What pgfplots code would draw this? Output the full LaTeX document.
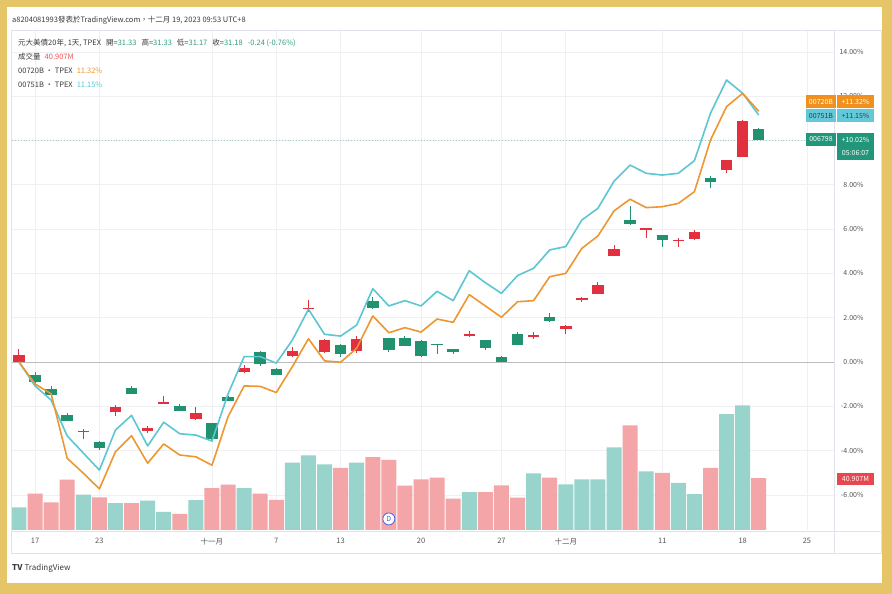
\documentclass[border=0pt]{standalone}
\usepackage{fontspec}
\setmainfont{Noto Sans CJK TC}
\usepackage{pgfplots}
\pgfplotsset{compat=1.18}
\usepackage{pgfplotstable}

\definecolor{gold}{HTML}{E6C468}
\definecolor{cred}{HTML}{E2303F}
\definecolor{cgreen}{HTML}{22916F}
\definecolor{vred}{HTML}{F3A5A8}
\definecolor{vgreen}{HTML}{98D4CC}
\definecolor{lorange}{HTML}{EE9630}
\definecolor{lcyan}{HTML}{5CC6D3}
\definecolor{gridc}{HTML}{EEF0F4}
\definecolor{bordc}{HTML}{E0E3EB}
\definecolor{txtc}{HTML}{3A3A3A}
\definecolor{ticktxt}{HTML}{555555}
\definecolor{valg}{HTML}{2E9E82}
\definecolor{valr}{HTML}{EF5350}
\definecolor{boxo}{HTML}{F0901E}
\definecolor{boxc}{HTML}{63C9D8}
\definecolor{boxg}{HTML}{22967A}
\definecolor{boxr}{HTML}{E8474F}
\definecolor{zeroc}{HTML}{BDBDBD}
\definecolor{dotc}{HTML}{9CC9C0}
\definecolor{dblue}{HTML}{4A5FE0}

% candles: x open high low close (percent)
\pgfplotstableread{
x o h l c
0 0.00 0.59 0.00 0.30
4 -3.14 -3.02 -3.48 -3.13
6 -2.27 -1.94 -2.42 -2.05
8 -3.13 -2.89 -3.21 -2.97
9 -1.84 -1.53 -1.87 -1.82
11 -2.57 -2.02 -2.60 -2.29
14 -0.47 -0.14 -0.50 -0.26
17 0.26 0.66 0.24 0.51
18 2.41 2.80 2.27 2.43
19 0.45 1.02 0.42 0.99
21 0.50 1.16 0.39 1.05
28 1.16 1.40 1.12 1.28
32 1.18 1.34 1.02 1.20
34 1.49 1.66 1.25 1.64
35 2.83 2.95 2.72 2.85
36 3.07 3.60 3.05 3.49
37 4.79 5.30 4.77 5.10
39 5.98 6.04 5.61 6.00
41 5.48 5.58 5.18 5.50
42 5.54 5.95 5.52 5.86
44 8.67 9.13 8.52 9.11
45 9.27 10.93 9.25 10.88
}\redtab
\pgfplotstableread{
x o h l c
1 -0.59 -0.45 -0.95 -0.92
2 -1.21 -1.08 -1.50 -1.48
3 -2.38 -2.30 -2.66 -2.65
5 -3.60 -3.58 -3.97 -3.88
7 -1.19 -1.07 -1.45 -1.43
10 -2.00 -1.90 -2.21 -2.20
12 -2.77 -2.75 -3.50 -3.48
13 -1.57 -1.55 -1.77 -1.75
15 0.45 0.50 -0.20 -0.10
16 -0.30 -0.28 -0.60 -0.57
20 0.77 0.79 0.24 0.36
22 2.75 2.92 2.40 2.42
23 1.07 1.09 0.45 0.56
24 1.07 1.19 0.70 0.72
25 0.97 0.99 0.24 0.26
26 0.80 0.82 0.36 0.78
27 0.57 0.59 0.36 0.44
29 0.98 1.00 0.54 0.63
30 0.23 0.25 -0.01 0.00
31 1.28 1.37 0.76 0.78
33 2.02 2.20 1.82 1.84
38 6.41 7.06 6.20 6.22
40 5.73 5.75 5.21 5.51
43 8.31 8.40 7.86 8.13
46 10.53 10.55 10.00 10.02
}\greentab
% compare lines (percent)
\pgfplotstableread{
x cy or
0 0.00 0.00
1 -1.08 -0.99
2 -1.72 -1.44
3 -3.34 -4.35
4 -4.11 -5.02
5 -4.88 -5.73
6 -3.07 -4.05
7 -2.41 -3.33
8 -3.79 -4.57
9 -2.72 -3.70
10 -3.24 -4.20
11 -3.30 -4.28
12 -3.57 -4.66
13 -1.44 -2.47
14 0.24 -1.08
15 0.24 -1.10
16 -0.05 -1.38
17 0.99 -0.21
18 2.38 1.05
19 1.25 0.05
20 1.17 -0.01
21 1.67 0.62
22 3.31 2.08
23 2.53 1.32
24 2.77 1.55
25 2.53 1.35
26 3.19 1.94
27 2.77 1.79
28 4.12 3.04
29 3.58 2.53
30 3.10 2.02
31 3.90 2.72
32 4.23 2.77
33 5.06 3.85
34 5.21 4.00
35 6.41 5.13
36 6.94 5.69
37 8.16 6.82
38 8.89 7.35
39 8.52 6.97
40 8.44 7.01
41 8.52 7.16
42 9.09 7.69
43 11.23 10.02
44 12.73 11.53
45 12.13 12.13
46 11.15 11.32
}\linetab

\newcommand\lgf{\fontsize{7.5}{9}\selectfont}
\newcommand\smf{\fontsize{7}{8}\selectfont}

\begin{document}
\begin{tikzpicture}[x=1pt,y=1pt]
\fill[gold] (0,0) rectangle (892,594);
\fill[white] (7,11) rectangle (882,587);

% grid + tick labels
\begin{axis}[at={(12pt,64pt)}, anchor=south west, scale only axis,
  width=822pt, height=500pt,
  xmin=-0.435, xmax=50.68, ymin=-7.585, ymax=14.989,
  axis line style={draw=none}, major tick length=0pt,
  xtick={1,5,12,16,20,25,30,34,40,45,49},
  xticklabels={17,23,十一月,7,13,20,27,十二月,11,18,25},
  ytick={-6,-4,-2,0,2,4,6,8,12,14},
  extra y ticks={10}, extra y tick labels={},
  extra y tick style={grid=major},
  yticklabel pos=right,
  grid=major, major grid style={draw=gridc, line width=0.6pt},
  /pgf/number format/assume math mode=true,
  yticklabel={\pgfmathprintnumber[fixed,fixed zerofill,precision=2]{\tick}\%},
  yticklabel style={anchor=east, xshift=33pt, font=\smf, text=ticktxt},
  xticklabel style={font=\lgf, text=ticktxt, yshift=-5pt},
]
\end{axis}

% volume
\begin{axis}[at={(12pt,64pt)}, anchor=south west, scale only axis,
  width=822pt, height=500pt,
  xmin=-0.435, xmax=50.68, ymin=0, ymax=393.5, hide axis,
  ybar, bar width=15pt, bar shift=0pt]
\addplot[fill=vgreen, draw=none] coordinates {
(0,17.9) (4,27.8) (6,21.2) (8,23.1) (9,14.2) (11,23.6) (14,33.0) (17,53.0)
(18,58.8) (19,51.7) (21,53.0) (28,29.9) (32,44.6) (34,36.0) (35,39.9) (36,39.9)
(37,65.1) (39,46.2) (41,37.0) (42,28.3) (44,91.1) (45,98.1)};
\addplot[fill=vred, draw=none] coordinates {
(1,28.6) (2,21.8) (3,39.6) (5,25.7) (7,21.2) (10,12.6) (12,33.0) (13,35.7)
(15,28.6) (16,23.8) (20,48.8) (22,57.4) (23,55.1) (24,34.9) (25,39.9) (26,41.2)
(27,24.6) (29,29.9) (30,35.2) (31,25.4) (33,41.2) (38,82.4) (40,44.9) (43,48.8)
(46,40.9)};
\node[circle, draw=dblue, fill=white, line width=0.8pt, inner sep=0pt, minimum size=12pt,
  text=dblue, font=\fontsize{7}{7}\selectfont] at (axis cs:23,8.7) {D};
\end{axis}

% price
\begin{axis}[at={(12pt,64pt)}, anchor=south west, scale only axis,
  width=822pt, height=500pt,
  xmin=-0.435, xmax=50.68, ymin=-7.585, ymax=14.989, hide axis, clip=false]
\addplot[color=zeroc, line width=0.9pt, forget plot] coordinates {(-0.435,0) (50.68,0)};
\addplot[color=dotc, dotted, line width=0.9pt, forget plot] coordinates {(-0.435,10.02) (49.9,10.02)};
% red wicks & bodies
\addplot[draw=none, mark=none, forget plot, error bars/.cd, y dir=both, y explicit, error mark=none,
  error bar style={draw=cred, line width=1pt}]
  table[x=x, y expr={(\thisrow{h}+\thisrow{l})/2}, y error expr={(\thisrow{h}-\thisrow{l})/2}] {\redtab};
\addplot[draw=none, mark=none, forget plot, error bars/.cd, y dir=both, y explicit, error mark=none,
  error bar style={draw=cred, line width=11.5pt}]
  table[x=x, y expr={(\thisrow{o}+\thisrow{c})/2}, y error expr={max(abs(\thisrow{c}-\thisrow{o})/2,0.04)}] {\redtab};
% green wicks & bodies
\addplot[draw=none, mark=none, forget plot, error bars/.cd, y dir=both, y explicit, error mark=none,
  error bar style={draw=cgreen, line width=1pt}]
  table[x=x, y expr={(\thisrow{h}+\thisrow{l})/2}, y error expr={(\thisrow{h}-\thisrow{l})/2}] {\greentab};
\addplot[draw=none, mark=none, forget plot, error bars/.cd, y dir=both, y explicit, error mark=none,
  error bar style={draw=cgreen, line width=11.5pt}]
  table[x=x, y expr={(\thisrow{o}+\thisrow{c})/2}, y error expr={max(abs(\thisrow{c}-\thisrow{o})/2,0.04)}] {\greentab};
% compare lines
\addplot[color=lcyan, line width=1.6pt, line join=round, mark=none] table[x=x, y=cy] {\linetab};
\addplot[color=lorange, line width=1.6pt, line join=round, mark=none] table[x=x, y=or] {\linetab};
\end{axis}

% chart frame lines
\draw[bordc, line width=0.7pt] (11,41) rectangle (881,564);
\draw[bordc, line width=0.7pt] (11,63) -- (881,63);
\draw[bordc, line width=0.7pt] (834,41) -- (834,564);

% right price labels
\fill[boxo] (806,486) rectangle (836,499);
\fill[boxo] (837,486) rectangle (874,499);
\node[text=white, font=\smf, inner sep=0] at (821,492.5) {00720B};
\node[text=white, font=\smf, inner sep=0] at (855.5,492.5) {+11.32\%};
\fill[boxc] (806,472) rectangle (836,485);
\fill[boxc] (837,472) rectangle (874,485);
\node[text=txtc, font=\smf, inner sep=0] at (821,478.5) {00751B};
\node[text=txtc, font=\smf, inner sep=0] at (855.5,478.5) {+11.15\%};
\fill[boxg] (806,448) rectangle (836,461);
\fill[boxg] (837,434) rectangle (874,461);
\node[text=white, font=\smf, inner sep=0] at (821,454.5) {006798};
\node[text=white, font=\smf, inner sep=0] at (855.5,454.5) {+10.02\%};
\node[text=white, font=\smf, inner sep=0] at (855.5,440.5) {05:06:07};
\fill[boxr] (837,109) rectangle (874,121);
\node[text=white, font=\smf, inner sep=0] at (855.5,115) {40.907M};

% header and legend
\node[anchor=west, inner sep=0, text=txtc, font=\lgf] at (12,574) {a8204081993發表於TradingView.com，十二月 19, 2023 09:53 UTC+8};
\node[anchor=west, inner sep=0, text=txtc, font=\lgf] at (18,551.3) {元大美債20年, 1天, TPEX\hspace{5pt}開=\textcolor{valg}{31.33}\hspace{5pt}高=\textcolor{valg}{31.33}\hspace{5pt}低=\textcolor{valg}{31.17}\hspace{5pt}收=\textcolor{valg}{31.18}\hspace{5pt}\textcolor{valg}{-0.24 (-0.76\%)}};
\node[anchor=west, inner sep=0, text=txtc, font=\lgf] at (18,537.3) {成交量\hspace{4pt}\textcolor{valr}{40.907M}};
\node[anchor=west, inner sep=0, text=txtc, font=\lgf] at (18,523) {00720B · TPEX\hspace{4pt}\textcolor{lorange}{11.32\%}};
\node[anchor=west, inner sep=0, text=txtc, font=\lgf] at (18,509.7) {00751B · TPEX\hspace{4pt}\textcolor{lcyan}{11.15\%}};

% footer logo
\node[anchor=west, inner sep=0, text=txtc, font=\fontsize{8}{9}\selectfont] at (12,26) {\textbf{TV}\hspace{2pt}TradingView};
\end{tikzpicture}
\end{document}
